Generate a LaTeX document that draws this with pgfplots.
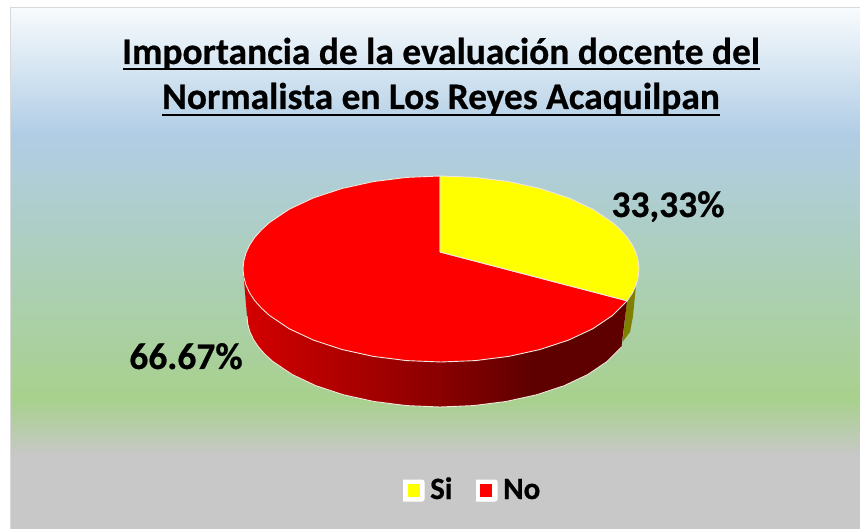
\documentclass[border=0pt]{standalone}
\usepackage{fontspec}
\setmainfont[BoldFeatures={FakeBold=0.6}]{Carlito}
\usepackage{pgfplots}
\pgfplotsset{compat=1.18}

\definecolor{bgtop}{HTML}{F8FBFD}
\definecolor{bgblue}{HTML}{B0CDE5}
\definecolor{bggreen}{HTML}{A8D18D}
\definecolor{bggray}{HTML}{C8C8C8}
\definecolor{sidea}{HTML}{D40000}
\definecolor{sideb}{HTML}{8A0000}
\definecolor{sidec}{HTML}{5F0000}
\definecolor{rim}{HTML}{F0E8E0}
\definecolor{si}{HTML}{FFFF00}
\definecolor{no}{HTML}{FF0000}
\definecolor{siside}{HTML}{808000}

% tikz maps the path's box onto 25bp..75bp of the shading
\pgfdeclareverticalshading{bgshade}{100bp}{color(0bp)=(bggray); color(32bp)=(bggray);
  color(37.4bp)=(bggreen); color(62.8bp)=(bgblue); color(75bp)=(bgtop); color(100bp)=(bgtop)}
\pgfdeclarehorizontalshading{sideshade}{100bp}{color(0bp)=(sidea); color(25bp)=(sidea);
  color(50.6bp)=(sideb); color(62.4bp)=(sidec); color(100bp)=(sidec)}

\begin{document}
\begin{tikzpicture}
\begin{axis}[
    scale only axis,
    width=860pt,
    height=529pt,
    xmin=0, xmax=860,
    ymin=0, ymax=529,
    y dir=reverse,
    hide axis,
    ]
% page and chart area
\addplot[fill=white, draw=none] coordinates {(0,0) (860,0) (860,529) (0,529)};
\addplot[shading=bgshade, draw=none] coordinates {(10,8) (860,8) (860,529) (10,529)};
\addplot[draw=black!15, line width=1pt] coordinates {(860,8) (10,8) (10,529)};

% side of the yellow slice
\addplot[fill=siside, draw=none] coordinates {
  (636,285.1) (627.1,300.8) (622.5,342) (630.1,331.8) (633,316)};

% side of the red slice
\addplot[shading=sideshade, draw=none] coordinates {
  (627.1,300.8) (621.4,347.1) (607.1,361.5) (587.8,374.5) (564.1,385.7) (536.5,394.8)
  (506,401.5) (473.5,405.6) (440,407) (406.5,405.6) (374,401.5) (343.5,394.8)
  (315.9,385.7) (292.2,374.5) (272.9,361.5) (265.1,354.5) (258.6,347.1) (253.6,339.6)
  (249.9,331.8) (247.7,323.9) (247,316)
  (243,269) (246,285.1) (254.9,300.8) (269.5,315.5) (289.3,328.8) (313.7,340.2)
  (342,349.5) (373.3,356.4) (406.6,360.6) (441,362) (475.4,360.6) (508.7,356.4)
  (540,349.5) (568.3,340.2) (592.7,328.8) (612.5,315.5)};
\addplot[draw=rim, line width=0.9pt] coordinates {
  (621.4,347.1) (607.1,361.5) (587.8,374.5) (564.1,385.7) (536.5,394.8)
  (506,401.5) (473.5,405.6) (440,407) (406.5,405.6) (374,401.5) (343.5,394.8)
  (315.9,385.7) (292.2,374.5) (272.9,361.5) (265.1,354.5) (258.6,347.1) (253.6,339.6)
  (249.9,331.8) (247.7,323.9) (247,316)};

% top face, No
\addplot[fill=no, draw=rim, line width=0.9pt] coordinates {
  (440,252) (627.1,300.8) (612.5,315.5) (592.7,328.8) (568.3,340.2) (540,349.5)
  (508.7,356.4) (475.4,360.6) (441,362) (406.6,360.6) (373.3,356.4) (342,349.5)
  (313.7,340.2) (289.3,328.8) (269.5,315.5) (261.6,308.3) (254.9,300.8) (249.7,293.1)
  (246,285.1) (243.8,277.1) (243,269) (243.8,260.9)
  (246,252.9) (249.7,244.9) (254.9,237.2) (261.6,229.7) (269.5,222.5) (289.3,209.2)
  (313.7,197.8) (342,188.5)
  (373.3,181.6) (406.6,177.4) (440,176) (440,252)};
% top face, Si
\addplot[fill=si, draw=rim, line width=0.9pt] coordinates {
  (440,252) (440,176) (475.4,177.4) (508.7,181.6) (540,188.5) (568.3,197.8)
  (592.7,209.2) (612.5,222.5) (620.4,229.7) (627.1,237.2) (632.3,244.9) (636,252.9)
  (638.2,260.9) (639,269) (638.2,277.1) (636,285.1) (632.3,293.1)
  (627.1,300.8) (440,252)};

% legend swatches
\addplot[fill=white, draw=white, line width=1pt, rounded corners=2pt] coordinates {
  (403,480) (424,480) (424,501) (403,501)};
\addplot[fill=si, draw=none] coordinates {(408,484) (420,484) (420,497) (408,497)};
\addplot[fill=white, draw=white, line width=1pt, rounded corners=2pt] coordinates {
  (476,480) (497,480) (497,501) (476,501)};
\addplot[fill=no, draw=none] coordinates {(480,484) (492,484) (492,497) (480,497)};

% title, underlines drawn by hand
\node[font=\fontsize{37.4}{37}\selectfont\bfseries, anchor=base] at (axis cs:441,64) {Importancia de la evaluación docente del};
\node[font=\fontsize{37.4}{37}\selectfont\bfseries, anchor=base] at (axis cs:441,109) {Normalista en Los Reyes Acaquilpan};
\draw[line width=2.5pt] (axis cs:123,69) -- (axis cs:760,69);
\draw[line width=2.5pt] (axis cs:162,115) -- (axis cs:720,115);

% data labels
\node[font=\fontsize{37.5}{37}\selectfont\bfseries, anchor=base] at (axis cs:668,217) {33,33\%};
\node[font=\fontsize{37.5}{37}\selectfont\bfseries, anchor=base] at (axis cs:186,369) {66.67\%};

% legend text
\node[font=\fontsize{31}{31}\selectfont\bfseries, anchor=base west, inner sep=0pt] at (axis cs:430,499) {Si};
\node[font=\fontsize{31}{31}\selectfont\bfseries, anchor=base west, inner sep=0pt] at (axis cs:503,499) {No};
\end{axis}
\end{tikzpicture}
\end{document}
